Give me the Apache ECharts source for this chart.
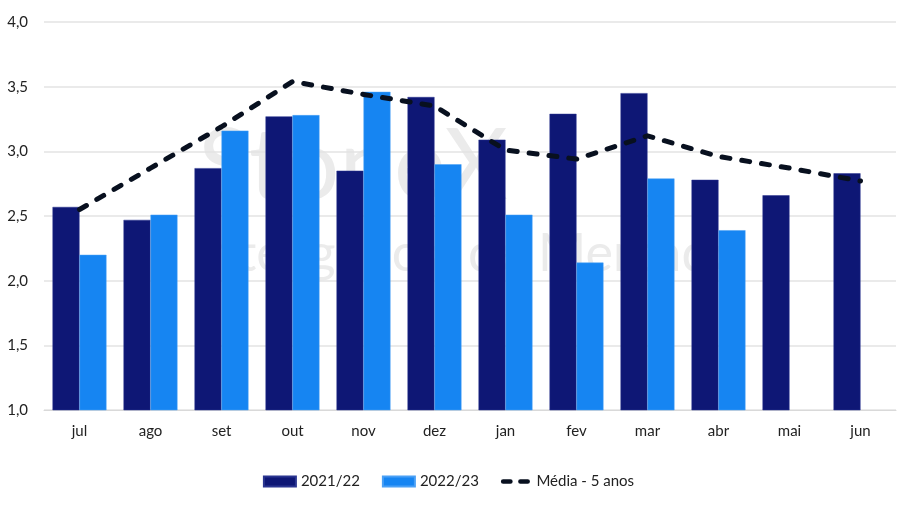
<!DOCTYPE html>
<html>
<head>
<meta charset="utf-8">
<script src="https://cdn.jsdelivr.net/npm/echarts@6/dist/echarts.min.js"></script>
<style>html,body{margin:0;padding:0;background:#fff}#c{width:897px;height:506px}</style>
</head>
<body>
<div id="c"></div>
<script>
var categories = ['jul','ago','set','out','nov','dez','jan','fev','mar','abr','mai','jun'];
var s2122 = [2.57,2.47,2.87,3.27,2.85,3.42,3.09,3.29,3.45,2.78,2.66,2.83];
var s2223 = [2.20,2.51,3.16,3.28,3.46,2.90,2.51,2.14,2.79,2.39,null,null];
var media5 = [2.55,2.87,3.19,3.54,3.44,3.35,3.01,2.94,3.12,2.96,2.87,2.77];
var yTicks = [1.0,1.5,2.0,2.5,3.0,3.5,4.0];

var font = 'Lato, "Noto Sans", sans-serif';
var chart = echarts.init(document.getElementById('c'), null, {renderer:'canvas'});
chart.setOption({
  animation:false,
  backgroundColor:'#fff',
  graphic:[
    {type:'text', left:198, top:118, z:-10, silent:true,
     style:{text:'StoneX', font:'98px Lato, sans-serif', fill:'#ebebeb'}},
    {type:'text', left:195, top:228, z:-10, silent:true,
     style:{text:'Inteligência de Mercado', font:'52px Lato, sans-serif', fill:'#ebebeb'}}
  ],
  grid:{left:44, right:1, top:22, bottom:96, containLabel:false},
  legend:{
    bottom:12, left:'center', itemGap:22, itemWidth:32, itemHeight:10,
    textStyle:{fontFamily:font, fontSize:15, color:'#222'},
    data:[
      {name:'2021/22', icon:'rect'},
      {name:'2022/23', icon:'rect'},
      {name:'Média - 5 anos', icon:'path://M0,0L0,0ZM2.5,3H10.5A2.5,2.5,0,0,1,10.5,8H2.5A2.5,2.5,0,0,1,2.5,3ZM21.5,3H29.5A2.5,2.5,0,0,1,29.5,8H21.5A2.5,2.5,0,0,1,21.5,3ZM32,11L32,11Z',
       itemStyle:{color:'#08101f', borderWidth:0}}
    ]
  },
  xAxis:{
    type:'category', data:categories,
    axisLine:{show:true, lineStyle:{color:'#d9d9d9'}},
    axisTick:{show:false},
    axisLabel:{fontFamily:font, fontSize:15, color:'#222', margin:14}
  },
  yAxis:{
    type:'value', min:1, max:4, interval:0.5,
    axisLine:{show:false}, axisTick:{show:false},
    splitLine:{lineStyle:{color:'#e3e3e3', width:1.5}},
    axisLabel:{fontFamily:font, fontSize:15, color:'#222', margin:16,
      formatter:function(v){return v.toFixed(1).replace('.',',');}}
  },
  series:[
    {name:'2021/22', type:'bar', data:s2122, barGap:'0%', barCategoryGap:'24%',
     itemStyle:{color:'#0e1775', borderColor:'#2a3590', borderWidth:0.5}},
    {name:'2022/23', type:'bar', data:s2223,
     itemStyle:{color:'#1685f2', borderColor:'#4aa0f5', borderWidth:0.5}},
    {name:'Média - 5 anos', type:'line', data:media5, symbol:'none', z:5,
     lineStyle:{color:'#08101f', width:5, type:[8,12], cap:'round', join:'round'},
     itemStyle:{color:'#08101f'}}
  ]
});
</script>
</body>
</html>
